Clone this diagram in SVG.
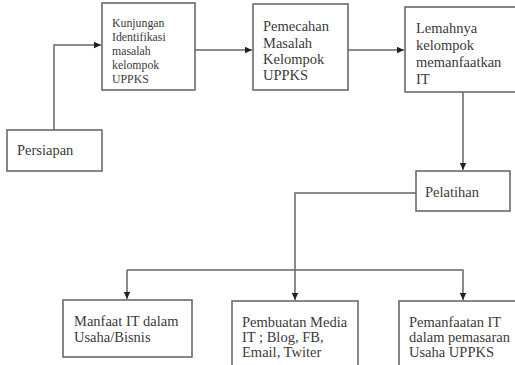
<svg xmlns="http://www.w3.org/2000/svg" width="515" height="365" viewBox="0 0 515 365">
<defs>
<style>
.box{fill:#fff;stroke:#6a6a6a;stroke-width:1.6}
.t{font-family:'Liberation Serif','Times New Roman',serif;font-size:14.5px;fill:#3a3a3a}
.s{font-size:11.8px}
.c{fill:none;stroke:#666;stroke-width:1.5}
</style>
<marker id="ah" markerUnits="userSpaceOnUse" markerWidth="8" markerHeight="8" viewBox="0 0 8 8" refX="7" refY="4" orient="auto">
<path d="M0,0.8 L7,4 L0,7.2 Z" fill="#222"/>
</marker>
</defs>
<rect width="515" height="365" fill="#fff"/>
<g id="connectors">
<path class="c" d="M54,130 V45 H101" marker-end="url(#ah)"/>
<path class="c" d="M195,50 H252" marker-end="url(#ah)"/>
<path class="c" d="M348,50 H404" marker-end="url(#ah)"/>
<path class="c" d="M463,92 V170" marker-end="url(#ah)"/>
<path class="c" d="M416,193 H295 V300" marker-end="url(#ah)"/>
<path class="c" d="M127,270 H463 V300" marker-end="url(#ah)"/>
<path class="c" d="M127,270 V299" marker-end="url(#ah)"/>
</g>
<g id="persiapan">
<rect class="box" x="7" y="130" width="95" height="41"/>
<text class="t" x="17" y="155">Persiapan</text>
</g>
<g id="kunjungan">
<rect class="box" x="102" y="3" width="93" height="87"/>
<text class="t s" x="112" y="27">Kunjungan</text>
<text class="t s" x="112" y="41">Identifikasi</text>
<text class="t s" x="112" y="55">masalah</text>
<text class="t s" x="112" y="69">kelompok</text>
<text class="t s" x="112" y="83">UPPKS</text>
</g>
<g id="pemecahan">
<rect class="box" x="253" y="4" width="95" height="86"/>
<text class="t" x="263" y="31">Pemecahan</text>
<text class="t" x="263" y="47.5">Masalah</text>
<text class="t" x="263" y="64">Kelompok</text>
<text class="t" x="263" y="80">UPPKS</text>
</g>
<g id="lemahnya">
<rect class="box" x="405" y="7" width="120" height="85"/>
<text class="t" x="416" y="33">Lemahnya</text>
<text class="t" x="416" y="50">kelompok</text>
<text class="t" x="416" y="67">memanfaatkan</text>
<text class="t" x="416" y="84">IT</text>
</g>
<g id="pelatihan">
<rect class="box" x="416" y="171" width="94" height="40"/>
<text class="t" x="425" y="197">Pelatihan</text>
</g>
<g id="manfaat">
<rect class="box" x="63" y="300" width="129" height="57"/>
<text class="t" x="74" y="326">Manfaat IT dalam</text>
<text class="t" x="74" y="342">Usaha/Bisnis</text>
</g>
<g id="pembuatan">
<rect class="box" x="232" y="301" width="126" height="80"/>
<text class="t" x="242" y="327">Pembuatan Media</text>
<text class="t" x="242" y="342">IT ; Blog, FB,</text>
<text class="t" x="242" y="357">Email, Twiter</text>
</g>
<g id="pemanfaatan">
<rect class="box" x="399" y="301" width="126" height="80"/>
<text class="t" x="409" y="327">Pemanfaatan IT</text>
<text class="t" x="409" y="342">dalam pemasaran</text>
<text class="t" x="409" y="357">Usaha UPPKS</text>
</g>
</svg>
